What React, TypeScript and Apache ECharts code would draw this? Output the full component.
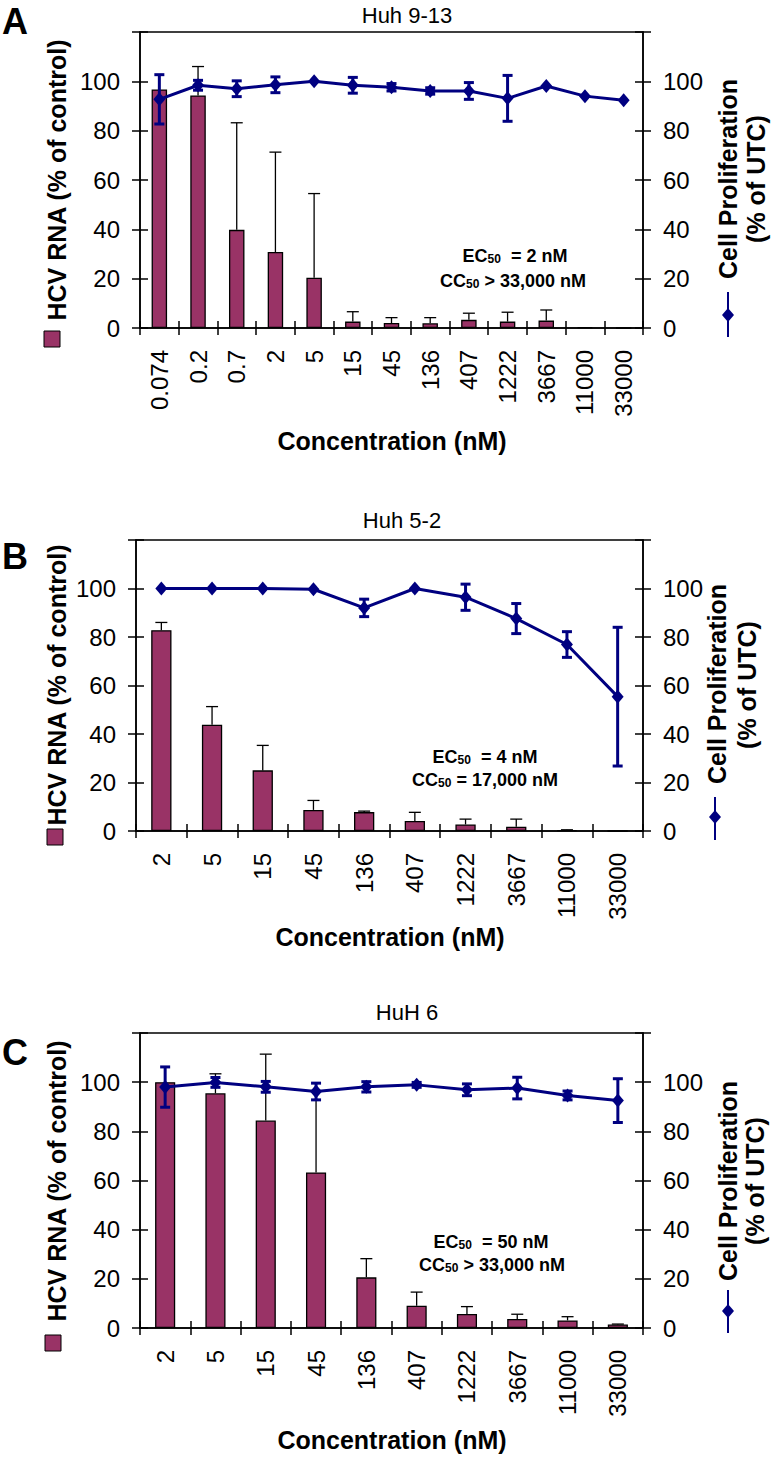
import React, { useEffect, useRef } from "react";
import * as echarts from "echarts";

const FONT = "'Liberation Sans', Arial, Helvetica, sans-serif";
const BAR = "#993366";
const NAVY = "#000080";

// Panel A: Huh 9-13
const catsA = ["0.074", "0.2", "0.7", "2", "5", "15", "45", "136", "407", "1222", "3667", "11000", "33000"];
const hcvA = [96.7, 94.3, 39.8, 30.8, 20.4, 2.6, 2.0, 1.9, 3.3, 2.6, 3.0, 0.3, 0];
const hcvErrA = [0, 11.7, 43.4, 40.5, 34.1, 4.0, 2.2, 2.3, 2.7, 3.8, 4.3, 0, 0];
const prolA = [92.7, 98.4, 97.0, 98.6, 100, 98.4, 97.6, 96.1, 96.1, 93.1, 98.1, 94.0, 92.3];
const prolErrA = [10, 2, 3.2, 3.2, 0, 3.2, 1.5, 1.3, 3.4, 9.3, 0, 0, 0];

// Panel B: Huh 5-2
const catsB = ["2", "5", "15", "45", "136", "407", "1222", "3667", "11000", "33000"];
const hcvB = [82.8, 43.8, 25.0, 8.7, 7.8, 4.1, 2.7, 1.8, 0.3, 0];
const hcvErrB = [3.2, 7.5, 10.3, 3.9, 0.4, 3.6, 2.2, 3.1, 0.2, 0];
const prolB = [100, 100, 100, 99.7, 92.0, 100, 96.4, 87.6, 76.9, 55.4];
const prolErrB = [0, 0, 0, 0, 3.6, 0, 5.4, 6.2, 5.3, 28.6];

// Panel C: HuH 6
const catsC = ["2", "5", "15", "45", "136", "407", "1222", "3667", "11000", "33000"];
const hcvC = [100, 95.5, 84.4, 63.3, 20.6, 9.1, 5.7, 3.7, 3.1, 1.4];
const hcvErrC = [0, 7.9, 27, 33, 7.6, 5.5, 3.0, 1.9, 1.5, 0.2];
const prolC = [98.0, 99.9, 98.1, 96.2, 98.1, 98.9, 96.9, 97.6, 94.6, 92.5];
const prolErrC = [8.2, 2, 2.2, 3.4, 2.1, 1, 2.4, 4.4, 1.8, 8.9];

const yTicks = { min: 0, max: 120, interval: 20 };

type PanelCfg = {
  cats: string[];
  hcv: number[];
  hcvErr: number[];
  prol: number[];
  prolErr: number[];
  left: number;
  top: number;
  bottom: number; // y of zero line
};

const panels: PanelCfg[] = [
  { cats: catsA, hcv: hcvA, hcvErr: hcvErrA, prol: prolA, prolErr: prolErrA, left: 140, top: 32, bottom: 328 },
  { cats: catsB, hcv: hcvB, hcvErr: hcvErrB, prol: prolB, prolErr: prolErrB, left: 136, top: 540, bottom: 831 },
  { cats: catsC, hcv: hcvC, hcvErr: hcvErrC, prol: prolC, prolErr: prolErrC, left: 140, top: 1033, bottom: 1328 },
];

function buildOption() {
  const grid: any[] = [];
  const xAxis: any[] = [];
  const yAxis: any[] = [];
  const series: any[] = [];
  const axisLineStyle = { color: "#000", width: 1.5 };

  panels.forEach((p, g) => {
    grid.push({
      left: p.left,
      right: 774 - 643,
      top: p.top,
      height: p.bottom - p.top,
      show: true,
      borderColor: "#000",
      borderWidth: 1.5,
      backgroundColor: "transparent",
    });
    xAxis.push({
      type: "category",
      gridIndex: g,
      data: p.cats,
      position: "bottom",
      axisLine: { show: true, lineStyle: axisLineStyle },
      axisTick: { show: true, length: 7, interval: 0, alignWithLabel: false, lineStyle: axisLineStyle },
      axisLabel: { interval: 0, rotate: 90, fontSize: 24, color: "#000", fontFamily: FONT, margin: 22 },
      splitLine: { show: false },
    });
    xAxis.push({
      type: "category",
      gridIndex: g,
      data: p.cats,
      position: "bottom",
      axisLine: { show: false },
      axisTick: { show: true, inside: true, length: 7, interval: 0, alignWithLabel: false, lineStyle: axisLineStyle },
      axisLabel: { show: false },
      splitLine: { show: false },
    });
    const fmt = (v: number) => (v === 120 ? "" : String(v));
    ["left", "right"].forEach((pos) => {
      yAxis.push({
        type: "value",
        gridIndex: g,
        position: pos,
        ...yTicks,
        axisLine: { show: true, lineStyle: axisLineStyle },
        axisTick: { show: true, length: 8, lineStyle: axisLineStyle },
        axisLabel: { fontSize: 24, color: "#000", fontFamily: FONT, margin: 20, formatter: fmt },
        splitLine: { show: false },
      });
    });
    ["left", "right"].forEach((pos) => {
      yAxis.push({
        type: "value",
        gridIndex: g,
        position: pos,
        ...yTicks,
        axisLine: { show: false },
        axisTick: { show: true, inside: true, length: 8, lineStyle: axisLineStyle },
        axisLabel: { show: false },
        splitLine: { show: false },
      });
    });

    const xi = g * 2;
    const yl = g * 4;
    const yr = g * 4 + 1;

    series.push({
      type: "bar",
      xAxisIndex: xi,
      yAxisIndex: yl,
      data: p.hcv,
      barWidth: "40%",
      itemStyle: { color: BAR, borderColor: "#000", borderWidth: 1.3 },
      z: 2,
    });
    series.push({
      type: "custom",
      xAxisIndex: xi,
      yAxisIndex: yl,
      data: p.hcv.map((v, i) => [i, v, p.hcvErr[i]]),
      encode: { x: 0, y: 1 },
      z: 3,
      renderItem: (params: any, api: any) => {
        const x = api.value(0);
        const v = api.value(1);
        const e = api.value(2);
        if (!e) return { type: "group", children: [] };
        const p0 = api.coord([x, v]);
        const p1 = api.coord([x, v + e]);
        const st = { stroke: "#000", lineWidth: 1.3 };
        return {
          type: "group",
          children: [
            { type: "line", shape: { x1: p0[0], y1: p0[1], x2: p1[0], y2: p1[1] }, style: st },
            { type: "line", shape: { x1: p1[0] - 6, y1: p1[1], x2: p1[0] + 6, y2: p1[1] }, style: st },
          ],
        };
      },
    });
    series.push({
      type: "line",
      xAxisIndex: xi,
      yAxisIndex: yr,
      data: p.prol,
      symbol: "diamond",
      symbolSize: [12, 14],
      lineStyle: { color: NAVY, width: 3 },
      itemStyle: { color: NAVY },
      z: 4,
    });
    series.push({
      type: "custom",
      xAxisIndex: xi,
      yAxisIndex: yr,
      data: p.prol.map((v, i) => [i, v, p.prolErr[i]]),
      encode: { x: 0, y: 1 },
      z: 5,
      renderItem: (params: any, api: any) => {
        const x = api.value(0);
        const v = api.value(1);
        const e = api.value(2);
        if (!e) return { type: "group", children: [] };
        const lo = api.coord([x, v - e]);
        const hi = api.coord([x, v + e]);
        const st = { stroke: NAVY, lineWidth: 3 };
        return {
          type: "group",
          children: [
            { type: "line", shape: { x1: lo[0], y1: lo[1], x2: hi[0], y2: hi[1] }, style: st },
            { type: "line", shape: { x1: hi[0] - 5, y1: hi[1], x2: hi[0] + 5, y2: hi[1] }, style: st },
            { type: "line", shape: { x1: lo[0] - 5, y1: lo[1], x2: lo[0] + 5, y2: lo[1] }, style: st },
          ],
        };
      },
    });
  });

  const txt = (text: string, x: number, y: number, extra: any = {}, rotation = 0) => ({
    type: "text",
    x,
    y,
    rotation,
    style: {
      text,
      fill: "#000",
      fontFamily: FONT,
      fontSize: 25,
      fontWeight: "bold",
      align: "center",
      verticalAlign: "middle",
      ...extra,
    },
  });

  const rich = {
    b: { fontFamily: FONT, fontSize: 18, fontWeight: "bold", fill: "#000", lineHeight: 18, verticalAlign: "middle" },
    s: { fontFamily: FONT, fontSize: 12, fontWeight: "bold", fill: "#000", lineHeight: 13, verticalAlign: "bottom" },
  };
  const ann = (text: string, x: number, y: number) => ({
    type: "text",
    x,
    y,
    style: { text, rich, align: "center", verticalAlign: "middle", fontFamily: FONT, fontSize: 18, fontWeight: "bold", lineHeight: 18 },
  });

  const diamond = (cx: number, cy: number) => ({
    type: "polygon",
    shape: { points: [[cx, cy - 7], [cx + 6, cy], [cx, cy + 7], [cx - 6, cy]] },
    style: { fill: NAVY },
  });
  const vline = (x: number, y1: number, y2: number) => ({
    type: "line",
    shape: { x1: x, y1, x2: x, y2 },
    style: { stroke: NAVY, lineWidth: 2 },
  });
  const square = (cx: number, cy: number) => ({
    type: "rect",
    shape: { x: cx - 8, y: cy - 8, width: 16, height: 16 },
    style: { fill: BAR, stroke: "#000", lineWidth: 1 },
  });

  const R = Math.PI / 2;
  const graphic: any[] = [
    // panel letters
    txt("A", 15, 21, { fontSize: 36 }),
    txt("B", 15, 556, { fontSize: 36 }),
    txt("C", 15, 1052, { fontSize: 36 }),
    // titles
    txt("Huh 9-13", 407, 15, { fontSize: 22, fontWeight: "normal" }),
    txt("Huh 5-2", 402, 520, { fontSize: 22, fontWeight: "normal" }),
    txt("HuH 6", 407, 1012, { fontSize: 22, fontWeight: "normal" }),
    // left axis titles
    txt("HCV RNA (% of control)", 57, 180, {}, R),
    txt("HCV RNA (% of control)", 57, 685, {}, R),
    txt("HCV RNA (% of control)", 57, 1181, {}, R),
    square(52, 339),
    square(55, 837),
    square(53, 1343),
    // right axis titles
    txt("Cell Proliferation", 728, 179, {}, R),
    txt("(% of UTC)", 756, 179, {}, R),
    txt("Cell Proliferation", 717, 684, {}, R),
    txt("(% of UTC)", 747, 685, {}, R),
    txt("Cell Proliferation", 728, 1181, {}, R),
    txt("(% of UTC)", 755, 1181, {}, R),
    vline(728, 292, 337),
    diamond(728, 315),
    vline(715, 797, 840),
    diamond(715, 817),
    vline(728, 1290, 1333),
    diamond(728, 1311),
    // x axis titles
    txt("Concentration (nM)", 392, 441),
    txt("Concentration (nM)", 390, 937),
    txt("Concentration (nM)", 392, 1440),
    // annotations
    ann("{b|EC}{s|50}{b|  = 2 nM}", 515, 256),
    ann("{b|CC}{s|50}{b| > 33,000 nM}", 513, 281),
    ann("{b|EC}{s|50}{b|  = 4 nM}", 485, 757),
    ann("{b|CC}{s|50}{b| = 17,000 nM}", 485, 780),
    ann("{b|EC}{s|50}{b|  = 50 nM}", 491, 1242),
    ann("{b|CC}{s|50}{b| > 33,000 nM}", 492, 1265),
  ];

  return {
    animation: false,
    backgroundColor: "#fff",
    textStyle: { fontFamily: FONT },
    grid,
    xAxis,
    yAxis,
    series,
    graphic,
  };
}

export default function App() {
  const ref = useRef<HTMLDivElement>(null);
  useEffect(() => {
    document.body.style.margin = "0";
    if (!ref.current) return;
    const chart = echarts.init(ref.current, undefined, { renderer: "svg" });
    chart.setOption(buildOption() as any);
    return () => chart.dispose();
  }, []);
  return <div ref={ref} style={{ width: 774, height: 1457 }} />;
}
